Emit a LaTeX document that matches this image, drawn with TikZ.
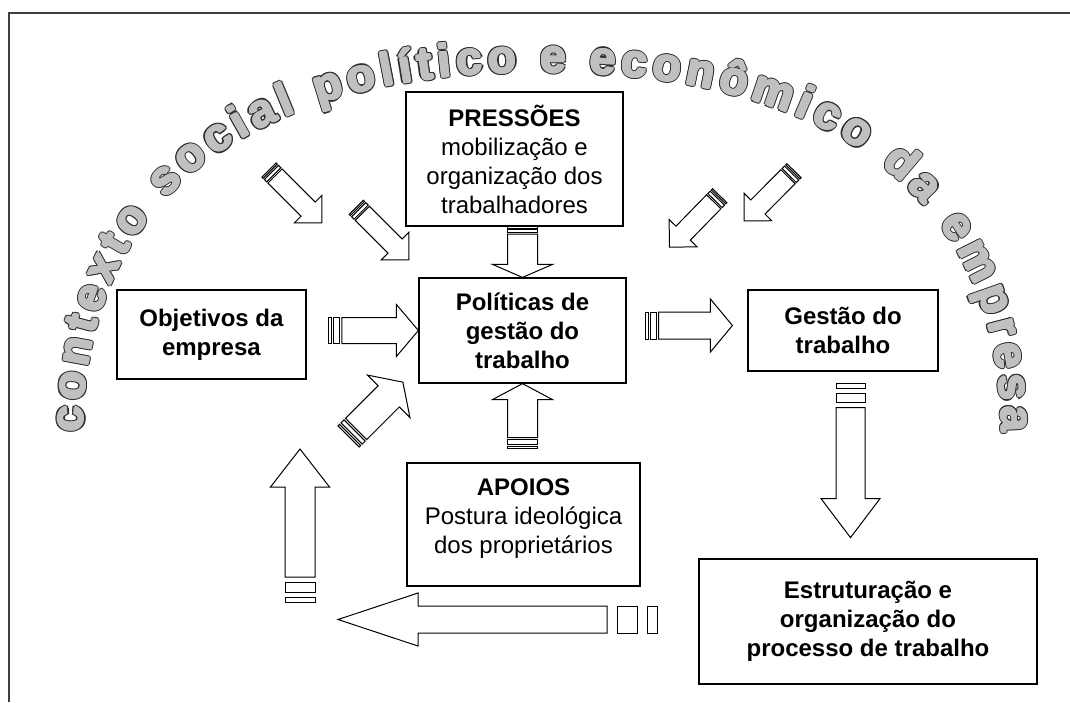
\documentclass[tikz,border=0pt]{standalone}
\usepackage{fontspec}
\setmainfont{Liberation Sans}
\usepackage{xcolor}
\usepackage{tikz}
\usetikzlibrary{calc,decorations.text}
\definecolor{wordfill}{HTML}{C0C0C0}
\definecolor{wordline}{HTML}{2E2E2E}
\definecolor{rimgray}{HTML}{404040}
\newcommand{\arcfont}{\fontsize{46}{46}\selectfont\bfseries}
\tikzset{
  box/.style={draw=black, line width=1.2pt, fill=white, align=center, inner sep=0pt,
    font=\fontsize{24}{29}\selectfont},
  blk/.style={draw=black, line width=1pt, fill=white, line join=miter},
  rim/.style={draw=rimgray, line width=1.8pt},
  arch/.style={decorate, decoration={text along path, text align=fit to path,
    text={|\arcfont\color{#1}|contexto social político e econômico da empresa}}},
}
% striped block arrow: tail, tip, shaft, head width, head length, stripe unit
\newcommand{\stripearrow}[6]{%
  \path let \p1=(#1), \p2=(#2) in \pgfextra{%
    \pgfmathsetmacro\sarang{atan2(\y2-\y1,\x2-\x1)}%
    \pgfmathsetmacro\sarlen{veclen(\x2-\x1,\y2-\y1)}%
    \xdef\sarang{\sarang}\xdef\sarlen{\sarlen}%
    \xdef\sarx{\x1}\xdef\sary{\y1}};
  \begin{scope}[shift={(\sarx,\sary)}, rotate=\sarang]
    \draw[blk] (0,-#3/2) rectangle (#6,#3/2);
    \draw[blk] (2*#6,-#3/2) rectangle (4*#6,#3/2);
    \draw[blk] (5*#6,-#3/2) -- (\sarlen-#5,-#3/2) -- (\sarlen-#5,-#4/2) -- (\sarlen,0)
      -- (\sarlen-#5,#4/2) -- (\sarlen-#5,#3/2) -- (5*#6,#3/2) -- cycle;
  \end{scope}}
% baseline of the arched title
\newcommand{\archpath}[2]{($(83,432)+(#1:#2)$)
  .. controls +(0,-226) and +(-300,0) .. ++(458,-360)
  .. controls +(294,0) and +(0,-232) .. ++(461,360)}
\begin{document}
\begin{tikzpicture}[x=1pt, y=-1pt]
  \useasboundingbox (0,0) rectangle (1070,702);
  \draw[rim] (1070,13) -- (9,13) -- (9,702);

  % arched title: dark rim, then grey body
  \foreach \a in {0,30,...,330}
    \path[arch=wordline] \archpath{\a}{2.2};
  \foreach \a in {0,45,...,315}
    \path[arch=wordfill] \archpath{\a}{1.1};
  \path[arch=wordfill] \archpath{0}{0};

  % boxes
  \node[box, minimum width=217pt, minimum height=134pt] (pressoes) at (514.5,159)
    {\textbf{PRESSÕES}\\mobilização e\\organização dos\\trabalhadores};
  \node[box, minimum width=207pt, minimum height=105pt] (politicas) at (522.5,330.5)
    {\textbf{Políticas de}\\\textbf{gestão do}\\\textbf{trabalho}};
  \node[box, minimum width=189pt, minimum height=89pt] (objetivos) at (211.5,334.5)
    {\textbf{Objetivos da}\\\textbf{empresa}};
  \node[box, minimum width=190pt, minimum height=81pt] (gestao) at (843,330.5)
    {\textbf{Gestão do}\\\textbf{trabalho}};
  \node[box, minimum width=233pt, minimum height=123pt] (apoios) at (523.5,524.5)
    {\textbf{APOIOS}\\Postura ideológica\\dos proprietários\\[-12pt]\mbox{}};
  \node[box, minimum width=338pt, minimum height=125pt] (estrut) at (868,621.5)
    {\textbf{Estruturação e}\\\textbf{organização do}\\\textbf{processo de trabalho}};

  % arrow ends
  \coordinate (og) at ($(politicas.west)+(-90,0)$);
  \coordinate (pg1) at ($(politicas.east)+(19,-5)$);
  \coordinate (pg2) at ($(gestao.west)+(-15,-5)$);
  \coordinate (pp) at (pressoes.south -| politicas.north);
  \coordinate (ap) at ($(politicas.south)+(0,65)$);
  \coordinate (ge1) at ($(gestao.south)+(7.5,12)$);
  \coordinate (ge2) at ($(gestao.south)+(7.5,166)$);
  \coordinate (back1) at (657,619.5);
  \coordinate (back2) at (338,619.5);
  \coordinate (up1) at (300,602);
  \coordinate (up2) at (300,449);
  \coordinate (dg1) at (348.6,436.4);
  \coordinate (dg2) at (403,382);
  \coordinate (ctxa1) at (269,170);
  \coordinate (ctxa2) at (322,223);
  \coordinate (ctxb1) at (356.3,207.3);
  \coordinate (ctxb2) at (409,260);
  \coordinate (ctxc1) at (719.7,195.7);
  \coordinate (ctxc2) at (669.3,247.3);
  \coordinate (ctxd1) at (794,170.7);
  \coordinate (ctxd2) at (744,221);

  % arrows
  \stripearrow{og}{politicas.west}{26}{52}{22}{2.7}
  \stripearrow{pg1}{pg2}{27}{53}{22}{2.6}
  \stripearrow{pp}{politicas.north}{30}{60}{13}{1.5}
  \stripearrow{ap}{politicas.south}{30}{60}{16}{2.2}
  \stripearrow{ge1}{ge2}{29}{59}{39}{4.8}
  \stripearrow{back1}{back2}{27}{53}{80}{10}
  \stripearrow{up1}{up2}{30}{59}{38}{5}
  \stripearrow{dg1}{dg2}{30}{60}{20}{2.1}
  \stripearrow{ctxa1}{ctxa2}{20}{39}{19.6}{1.7}
  \stripearrow{ctxb1}{ctxb2}{20}{39}{19.6}{1.7}
  \stripearrow{ctxc1}{ctxc2}{20}{39}{19.6}{1.7}
  \stripearrow{ctxd1}{ctxd2}{20}{39}{19.6}{1.7}
\end{tikzpicture}
\end{document}
